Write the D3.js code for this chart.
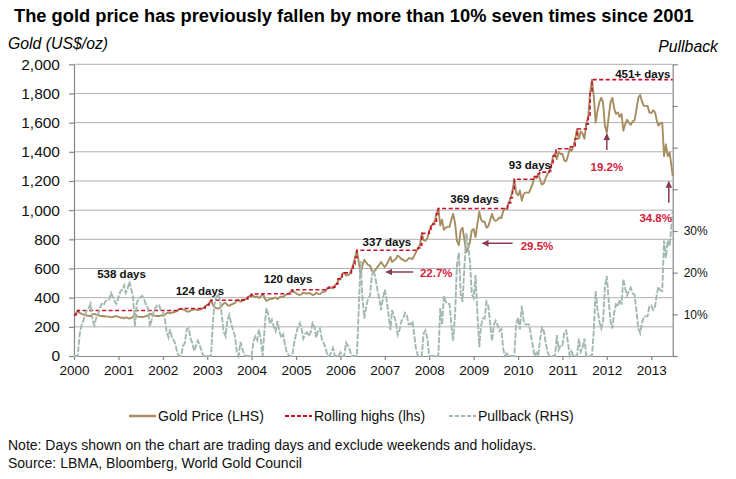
<!DOCTYPE html>
<html><head><meta charset="utf-8">
<script src="https://cdn.jsdelivr.net/npm/d3@7"></script>
<style>
body{margin:0;background:#fff}
svg{display:block;font-family:"Liberation Sans",Arial,Helvetica,sans-serif}
</style>
</head><body>
<svg id="chart" width="736" height="479"></svg>
<script>
// ---------------- DATA ----------------
// Gold price, US$/oz, sampled on the 1st and 16th of each month from Jan 2000; last value = end of series (26 Jun 2013)
const goldPrice = [
  282,288,312,296,290,286,281,278,276,273,285,289,284,281,276,273,274,271,270,270,265,268,271,273, // 2000
  268,264,262,259,265,262,256,262,268,290,272,269,268,267,270,274,276,290,285,279,276,274,274,278, // 2001
  279,283,294,298,292,298,300,304,310,322,323,318,316,305,304,312,316,322,318,314,318,322,330,340, // 2002
  350,360,382,352,335,328,325,331,345,360,364,349,344,352,358,363,378,385,372,378,384,392,403,412, // 2003
  424,410,405,409,398,408,427,400,378,384,394,390,397,402,391,402,408,405,415,423,426,441,453,440, // 2004
  430,422,418,425,435,430,428,432,428,418,422,434,426,424,436,440,445,465,472,468,463,485,495,525, // 2005
  525,565,570,552,555,560,590,630,675,725,640,560,625,660,640,625,620,585,575,590,610,625,645,625, // 2006
  610,628,655,680,645,655,665,688,680,665,660,650,655,670,670,665,690,715,740,760,841,795,790,805, // 2007
  860,890,905,925,975,1011,895,935,865,880,885,885,935,975,910,790,760,860,880,800,713,740,780,860, // 2008
  870,815,910,990,940,920,920,880,890,930,975,935,925,935,950,945,995,1010,1005,1050,1085,1130,1212,1120, // 2009
  1100,1135,1065,1110,1120,1120,1120,1150,1180,1230,1220,1250,1210,1175,1185,1220,1250,1270,1310,1370,1390,1350,1400,1385, // 2010
  1385,1340,1335,1375,1420,1405,1435,1490,1556,1490,1540,1525,1490,1590,1640,1800,1895,1780,1600,1680,1740,1770,1740,1580, // 2011
  1531,1640,1740,1770,1700,1660,1670,1640,1660,1545,1590,1620,1600,1585,1610,1615,1690,1770,1790,1745,1715,1715,1715,1670, // 2012
  1665,1685,1670,1610,1580,1595,1600,1370,1450,1370,1395,1300,1235                                                           // 2013
];
// Pullback from the rolling high, % (right axis), same dates as goldPrice
const pullbackPct = [
  0,0,0,5.1,7.1,8.3,9.9,10.9,11.5,12.5,8.7,7.4,9.0,9.9,11.5,12.5,12.2,13.1,13.5,13.5,15.1,14.1,13.1,12.5,
  14.1,15.4,16.0,17.0,15.1,16.0,17.9,16.0,14.1,7.1,12.8,13.8,14.1,14.4,13.5,12.2,11.5,7.1,8.7,10.6,11.5,12.2,12.2,10.9,
  10.6,9.3,5.8,4.5,6.4,4.5,3.8,2.6,0.6,0,0,2.5,3.1,6.4,6.7,4.3,3.1,1.2,2.5,3.7,2.5,1.2,0,0,
  0,0,0,7.9,12.3,14.1,14.9,13.4,9.7,5.8,4.7,8.6,9.9,7.9,6.3,5.0,1.0,0,3.4,1.8,0.3,0,0,0,
  0,3.5,4.7,3.8,6.4,4.0,0,6.3,11.5,10.1,7.7,8.7,7.0,5.9,8.4,5.9,4.4,5.2,2.8,0.9,0.2,0,0,3.1,
  5.3,7.0,7.9,6.4,4.2,5.3,5.7,4.8,5.7,7.9,7.0,4.4,6.2,6.6,4.0,3.1,2.0,0,0,0.8,1.9,0,0,0,
  0.9,0,0,3.2,2.6,1.8,0,0,0,0,11.7,22.8,13.8,9.0,11.7,13.8,14.5,19.3,20.7,18.6,15.9,13.8,11.0,13.8,
  15.9,13.4,9.7,6.2,11.0,9.7,8.3,5.1,6.2,8.3,9.0,10.3,9.7,7.6,7.6,8.3,4.8,1.4,0,0,0,5.5,6.1,4.3,
  0,0,0,0,0,0,11.5,7.5,14.4,13.0,12.5,12.5,7.5,3.6,10.0,21.9,24.8,14.9,13.0,20.9,29.5,26.8,22.8,14.9,
  13.9,19.4,10.0,2.1,7.0,9.0,9.0,13.0,12.0,8.0,3.6,7.5,8.5,7.5,6.0,6.5,1.6,0.1,0.6,0,0,0,0,7.6,
  9.2,6.4,12.1,8.4,7.6,7.6,7.6,5.1,2.6,0,0.8,0,4.0,6.8,6.0,3.3,0.9,0,0,0,0,5.0,1.5,2.5,
  2.5,5.7,6.1,3.2,0.1,1.1,0,0,0,4.2,1.0,2.0,4.2,0,0,0,0,6.1,15.6,11.3,8.2,6.6,8.2,16.6,
  19.2,13.5,8.2,6.6,10.3,12.4,11.9,13.5,12.4,18.5,16.1,14.5,15.6,16.4,15.0,14.8,10.8,6.6,5.5,7.9,9.5,9.5,9.5,11.9,
  12.1,11.1,11.9,15.0,16.6,15.8,15.6,27.7,23.5,27.7,26.4,31.4,34.8
];
const lastDate = "2013-06-26";
// Rolling (all-time since 2000) highs: date of each new high and its level
const highDates = ["2000-01-01","2000-01-16","2000-02-01","2002-05-16","2002-06-04","2002-12-01","2002-12-16",
  "2003-01-01","2003-01-16","2003-02-01","2003-09-16","2003-11-16","2003-12-01","2003-12-16","2004-01-01","2004-04-01",
  "2004-11-16","2004-12-01","2005-09-16","2005-10-01","2005-11-16","2005-12-01","2005-12-12",
  "2006-01-16","2006-02-01","2006-04-01","2006-04-16","2006-05-01","2006-05-16",
  "2007-09-20","2007-10-01","2007-10-16","2007-11-01",
  "2008-01-01","2008-01-16","2008-02-01","2008-02-16","2008-03-01","2008-03-16",
  "2009-10-06","2009-10-16","2009-11-01","2009-11-16","2009-12-01",
  "2010-05-16","2010-06-16","2010-06-28","2010-09-16","2010-10-01","2010-10-16","2010-11-01","2010-11-09",
  "2011-03-08","2011-04-16","2011-05-01","2011-07-16","2011-08-01","2011-08-16","2011-09-01","2013-06-26"];
const highValues = [282,288,312,322,326,330,340,
  350,360,382,385,392,403,412,425,427,
  441,454,465,472,485,495,530,
  565,570,590,630,675,725,
  730,740,760,841,
  860,890,905,925,975,1011,
  1030,1050,1085,1130,1212,
  1230,1250,1261,1270,1310,1370,1390,1421,
  1435,1490,1556,1590,1640,1800,1895,1895];

const yearLabels = [2000,2001,2002,2003,2004,2005,2006,2007,2008,2009,2010,2011,2012,2013];
const leftTicks = [0,200,400,600,800,1000,1200,1400,1600,1800,2000];
const rightTicks = [0,10,20,30,40,50,60,70];
const rightLabelled = [10,20,30];

// Annotations anchored in data space: [date, value]
const dayNotes = [
  {text:"538 days", date:"2001-01-26", value:562},
  {text:"124 days", date:"2002-11-02", value:448},
  {text:"120 days", date:"2004-10-27", value:526},
  {text:"337 days", date:"2007-01-18", value:784},
  {text:"369 days", date:"2009-01-08", value:1077},
  {text:"93 days",  date:"2010-04-08", value:1310},
  {text:"451+ days",date:"2012-10-23", value:1934}
];
const pctNotes = [
  {text:"22.7%", date:"2008-02-28", value:571, from:["2007-08-22",576], to:["2007-01-12",576]},
  {text:"29.5%", date:"2010-06-06", value:754, from:["2009-11-17",773], to:["2009-03-14",773]},
  {text:"19.2%", date:"2012-01-01", value:1294, from:["2012-01-01",1412], to:["2012-01-01",1522]},
  {text:"34.8%", date:"2013-02-06", value:944, from:["2013-05-25",1051], to:["2013-05-25",1195]}
];
const legendItems = [
  {label:"Gold Price (LHS)", key:"gold"},
  {label:"Rolling highs (lhs)", key:"high"},
  {label:"Pullback (RHS)", key:"pull"}
];

// ---------------- STYLE ----------------
const C = {gold:"#a68e61", high:"#c8102e", pull:"#a3b9af", grid:"#b0b0b0", axis:"#868686", arrow:"#8c3a52", pct:"#d7213a"};
const svg = d3.select("#chart");
const M = {left:74, right:672.7, top:64.3, bottom:356};

const parse = d3.utcParse("%Y-%m-%d");
const dates = goldPrice.map((_, i) => i < 324
  ? new Date(Date.UTC(2000 + Math.floor(i / 24), Math.floor((i % 24) / 2), i % 2 ? 16 : 1))
  : parse(lastDate));

const x = d3.scaleUtc().domain([parse("2000-01-01"), parse(lastDate)]).range([M.left, M.right]);
const y = d3.scaleLinear().domain([0, 2000]).range([M.bottom, M.top]);
const yR = d3.scaleLinear().domain([0, 70]).range([M.bottom, M.top]);

// Title and axis titles
svg.append("text").attr("x", 14).attr("y", 22).attr("font-size", 18.3).attr("font-weight", "bold")
  .text("The gold price has previously fallen by more than 10% seven times since 2001");
svg.append("text").attr("x", 8).attr("y", 49).attr("font-size", 15.8).attr("font-style", "italic").text("Gold (US$/oz)");
svg.append("text").attr("x", 718).attr("y", 52).attr("font-size", 15.8).attr("font-style", "italic")
  .attr("text-anchor", "end").text("Pullback");

// Gridlines
svg.append("g").selectAll("line").data(leftTicks.filter(d => d > 0)).join("line")
  .attr("x1", M.left).attr("x2", M.right).attr("y1", d => y(d)).attr("y2", d => y(d))
  .attr("stroke", C.grid).attr("stroke-width", 1);

// Axes
const leftAxis = svg.append("g").attr("transform", `translate(${M.left},0)`)
  .call(d3.axisLeft(y).tickValues(leftTicks).tickSize(5).tickSizeOuter(0).tickPadding(9).tickFormat(d3.format(",")));
const rightAxis = svg.append("g").attr("transform", `translate(${M.right},0)`)
  .call(d3.axisRight(yR).tickValues(rightTicks).tickSize(5).tickSizeOuter(0).tickPadding(6)
    .tickFormat(d => rightLabelled.includes(d) ? d + "%" : ""));
const bottomAxis = svg.append("g").attr("transform", `translate(0,${M.bottom})`)
  .call(d3.axisBottom(x).tickValues(yearLabels.map(yr => new Date(Date.UTC(yr, 0, 1))))
    .tickSize(4).tickSizeOuter(0).tickPadding(5).tickFormat(d3.utcFormat("%Y")));
[leftAxis, rightAxis, bottomAxis].forEach(g => {
  g.selectAll("path,line").attr("stroke", C.axis).attr("stroke-width", 1.2);
  g.selectAll("text").attr("fill", "#111").attr("font-family", "Liberation Sans, Arial, sans-serif");
});
leftAxis.selectAll("text").attr("font-size", 15.5);
rightAxis.selectAll("text").attr("font-size", 12);
bottomAxis.selectAll("text").attr("font-size", 13.5);

// Series
const goldLine = d3.line().x((d, i) => x(dates[i])).y(d => y(d));
const pullLine = d3.line().x((d, i) => x(dates[i])).y(d => yR(d));
const highLine = d3.line().curve(d3.curveStepAfter).x((d, i) => x(parse(highDates[i]))).y(d => y(d));

svg.append("path").datum(goldPrice).attr("d", goldLine).attr("fill", "none")
  .attr("stroke", C.gold).attr("stroke-width", 1.9).attr("stroke-linejoin", "round");
svg.append("path").datum(highValues).attr("d", highLine).attr("fill", "none")
  .attr("stroke", C.high).attr("stroke-width", 1.6).attr("stroke-dasharray", "4,2.5");
svg.append("path").datum(pullbackPct).attr("d", pullLine).attr("fill", "none")
  .attr("stroke", C.pull).attr("stroke-width", 1.9).attr("stroke-dasharray", "6,1.5");

// Annotations
svg.append("g").selectAll("text").data(dayNotes).join("text")
  .attr("x", d => x(parse(d.date))).attr("y", d => y(d.value)).attr("dy", "0.36em")
  .attr("text-anchor", "middle").attr("font-size", 11.5).attr("font-weight", "bold").attr("fill", "#111")
  .text(d => d.text);

const defs = svg.append("defs");
defs.append("marker").attr("id", "ah").attr("viewBox", "0 0 10 10").attr("refX", 9).attr("refY", 5)
  .attr("markerWidth", 4.5).attr("markerHeight", 4.5).attr("orient", "auto-start-reverse")
  .append("path").attr("d", "M0,0 L10,5 L0,10 z").attr("fill", C.arrow);

svg.append("g").selectAll("line").data(pctNotes).join("line")
  .attr("x1", d => x(parse(d.from[0]))).attr("y1", d => y(d.from[1]))
  .attr("x2", d => x(parse(d.to[0]))).attr("y2", d => y(d.to[1]))
  .attr("stroke", C.arrow).attr("stroke-width", 1.5).attr("marker-end", "url(#ah)");
svg.append("g").selectAll("text").data(pctNotes).join("text")
  .attr("x", d => x(parse(d.date))).attr("y", d => y(d.value)).attr("dy", "0.36em")
  .attr("text-anchor", "middle").attr("font-size", 11.5).attr("font-weight", "bold").attr("fill", C.pct)
  .text(d => d.text);

// Legend
const legendX = [129, 285, 449];
const lg = svg.append("g").selectAll("g").data(legendItems).join("g")
  .attr("transform", (d, i) => `translate(${legendX[i]},416)`);
lg.append("line").attr("x1", 0).attr("x2", 27).attr("y1", 0).attr("y2", 0)
  .attr("stroke", d => C[d.key]).attr("stroke-width", d => d.key === "gold" ? 2.5 : 2)
  .attr("stroke-dasharray", d => d.key === "high" ? "4,2" : d.key === "pull" ? "4,2" : null);
lg.append("text").attr("x", 29).attr("y", 0).attr("dy", "0.36em").attr("font-size", 14).attr("fill", "#111")
  .text(d => d.label);

// Notes
svg.append("text").attr("x", 8).attr("y", 450).attr("font-size", 14).attr("fill", "#111")
  .text("Note: Days shown on the chart are trading days and exclude weekends and holidays.");
svg.append("text").attr("x", 8).attr("y", 468).attr("font-size", 14).attr("fill", "#111")
  .text("Source: LBMA, Bloomberg, World Gold Council");
</script>
</body></html>
